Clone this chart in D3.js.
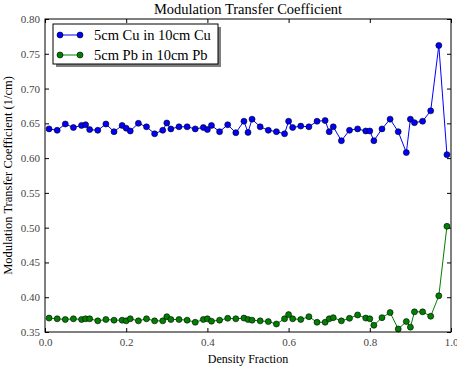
<!DOCTYPE html>
<html>
<head>
<meta charset="utf-8">
<script src="https://cdn.jsdelivr.net/npm/d3@7"></script>
<style>
  body { margin: 0; background: white; }
  text { font-family: "Liberation Serif", "DejaVu Serif", serif; }
</style>
</head>
<body>
<script>
// density fractions (same for both series)
const density = [0.01, 0.03, 0.05, 0.07, 0.09, 0.10, 0.11, 0.13, 0.15, 0.17, 0.19, 0.20,
  0.21, 0.23, 0.25, 0.27, 0.29, 0.30, 0.31, 0.33, 0.35, 0.37, 0.39, 0.40,
  0.41, 0.43, 0.45, 0.47, 0.49, 0.50, 0.51, 0.53, 0.55, 0.57, 0.59, 0.60,
  0.61, 0.63, 0.65, 0.67, 0.69, 0.70, 0.71, 0.73, 0.75, 0.77, 0.79, 0.80,
  0.81, 0.83, 0.85, 0.87, 0.89, 0.90, 0.91, 0.93, 0.95, 0.97, 0.99];

const cuValues = [0.642, 0.640, 0.649, 0.644, 0.647, 0.648, 0.641, 0.640, 0.649, 0.638, 0.647, 0.643,
  0.639, 0.650, 0.645, 0.635, 0.640, 0.6505, 0.642, 0.645, 0.645, 0.642, 0.644, 0.641,
  0.647, 0.638, 0.648, 0.6365, 0.653, 0.637, 0.656, 0.645, 0.640, 0.638, 0.635, 0.653,
  0.644, 0.646, 0.645, 0.653, 0.654, 0.638, 0.645, 0.625, 0.640, 0.642, 0.639, 0.639,
  0.625, 0.642, 0.656, 0.638, 0.608, 0.656, 0.651, 0.653, 0.668, 0.762, 0.605];

const pbValues = [0.370, 0.369, 0.368, 0.369, 0.368, 0.369, 0.369, 0.366, 0.368, 0.367, 0.367, 0.366,
  0.369, 0.366, 0.369, 0.366, 0.366, 0.372, 0.368, 0.368, 0.367, 0.364, 0.368, 0.369,
  0.3655, 0.367, 0.3697, 0.369, 0.370, 0.368, 0.367, 0.366, 0.365, 0.3615, 0.369, 0.375,
  0.369, 0.368, 0.372, 0.364, 0.364, 0.369, 0.3706, 0.366, 0.3697, 0.3745, 0.370, 0.369,
  0.3597, 0.3706, 0.378, 0.3543, 0.365, 0.357, 0.379, 0.379, 0.3726, 0.402, 0.502];

const seriesNames = ["5cm Cu in 10cm Cu", "5cm Pb in 10cm Pb"];
const seriesColors = ["#0000ff", "#008000"];
const xTicks = [0.0, 0.2, 0.4, 0.6, 0.8, 1.0];
const yTicks = [0.35, 0.40, 0.45, 0.50, 0.55, 0.60, 0.65, 0.70, 0.75, 0.80];

const margin = { top: 19, right: 6, bottom: 37, left: 45 };
const width = 457 - margin.left - margin.right;
const height = 369 - margin.top - margin.bottom;

const svg = d3.select("body")
  .append("svg")
  .attr("width", 457)
  .attr("height", 369)
  .append("g")
  .attr("transform", `translate(${margin.left}, ${margin.top})`);

let xScale = d3.scaleLinear([0, 1], [0, width]);
let yScale = d3.scaleLinear([0.35, 0.80], [height, 0]);

// ticks pointing inward on all four sides
function tickAxis(axis, transform, showLabels) {
  const g = svg.append("g")
    .attr("transform", transform)
    .call(axis);
  g.select(".domain").remove();
  g.selectAll("line").attr("stroke", "black");
  g.selectAll("text")
    .style("font-size", "11px")
    .attr("fill", "#444")
    .style("display", showLabels ? null : "none");
  return g;
}

tickAxis(d3.axisBottom(xScale).tickValues(xTicks).tickFormat(d3.format(".1f"))
  .tickSizeInner(-4).tickSizeOuter(0).tickPadding(6), `translate(0,${height})`, true);
tickAxis(d3.axisTop(xScale).tickValues(xTicks).tickSizeInner(-4).tickSizeOuter(0), "translate(0,0)", false);
tickAxis(d3.axisLeft(yScale).tickValues(yTicks).tickFormat(d3.format(".2f"))
  .tickSizeInner(-4).tickSizeOuter(0).tickPadding(5), "translate(0,0)", true);
tickAxis(d3.axisRight(yScale).tickValues(yTicks).tickSizeInner(-4).tickSizeOuter(0), `translate(${width},0)`, false);

let line = d3.line()
  .x(d => xScale(d[0]))
  .y(d => yScale(d[1]));

const allSeries = [cuValues, pbValues];
for (let i = 0; i < allSeries.length; i++) {
  const data = density.map((d, j) => [d, allSeries[i][j]]);
  svg.append("path")
    .datum(data)
    .attr("fill", "none")
    .attr("stroke", seriesColors[i])
    .attr("stroke-width", 1)
    .attr("d", line);
  svg.append("g")
    .selectAll("circle")
    .data(data)
    .join("circle")
    .attr("cx", d => xScale(d[0]))
    .attr("cy", d => yScale(d[1]))
    .attr("r", 3)
    .attr("fill", seriesColors[i])
    .attr("stroke", "black")
    .attr("stroke-width", 0.6);
}

// frame
svg.append("rect")
  .attr("width", width)
  .attr("height", height)
  .attr("fill", "none")
  .attr("stroke", "black")
  .attr("stroke-width", 1);

// title and labels
svg.append("text")
  .attr("x", width / 2)
  .attr("y", -5)
  .attr("text-anchor", "middle")
  .style("font-size", "14.5px")
  .text("Modulation Transfer Coefficient");

svg.append("text")
  .attr("x", width / 2)
  .attr("y", height + 31)
  .attr("text-anchor", "middle")
  .style("font-size", "12px")
  .text("Density Fraction");

svg.append("text")
  .attr("transform", "rotate(-90)")
  .attr("x", -height / 2)
  .attr("y", -33)
  .attr("text-anchor", "middle")
  .style("font-size", "12.5px")
  .text("Modulation Transfer Coefficient (1/cm)");

// legend with shadow
const legend = svg.append("g").attr("transform", "translate(8,5)");
legend.append("rect")
  .attr("x", 3).attr("y", 3)
  .attr("width", 165).attr("height", 40)
  .attr("fill", "#808080");
legend.append("rect")
  .attr("width", 165).attr("height", 40)
  .attr("fill", "white")
  .attr("stroke", "black")
  .attr("stroke-width", 1);

for (let i = 0; i < seriesNames.length; i++) {
  const yy = 11 + i * 20;
  legend.append("line")
    .attr("x1", 7).attr("x2", 27)
    .attr("y1", yy).attr("y2", yy)
    .attr("stroke", seriesColors[i])
    .attr("stroke-width", 1);
  [7, 27].forEach(cx => {
    legend.append("circle")
      .attr("cx", cx).attr("cy", yy).attr("r", 3)
      .attr("fill", seriesColors[i])
      .attr("stroke", "black")
      .attr("stroke-width", 0.6);
  });
  legend.append("text")
    .attr("x", 41)
    .attr("y", yy)
    .attr("dy", "0.35em")
    .style("font-size", "14.5px")
    .text(seriesNames[i]);
}
</script>
</body>
</html>
